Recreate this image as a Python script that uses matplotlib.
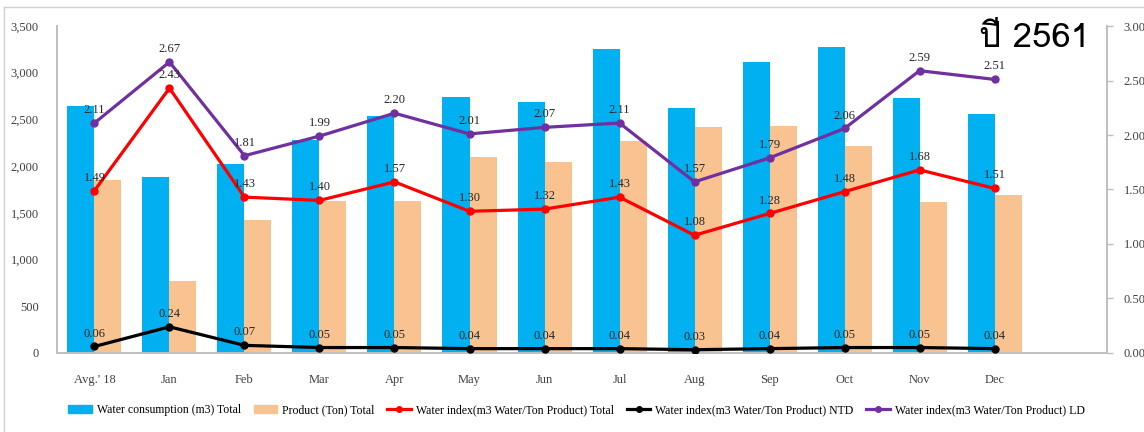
import numpy as np
import matplotlib
matplotlib.use('Agg')
import matplotlib.pyplot as plt
from matplotlib import font_manager
from matplotlib.ft2font import FT2Font
from matplotlib.lines import Line2D
from matplotlib.patches import Patch

categories = ["Avg.' 18", 'Jan', 'Feb', 'Mar', 'Apr', 'May', 'Jun', 'Jul',
              'Aug', 'Sep', 'Oct', 'Nov', 'Dec']
water = [2640, 1880, 2020, 2280, 2540, 2740, 2690, 3255, 2625, 3115, 3275, 2730, 2560]
product = [1852, 771, 1424, 1624, 1624, 2098, 2045, 2270, 2420, 2427, 2216, 1620, 1692]
idx_total = [1.49, 2.43, 1.43, 1.40, 1.57, 1.30, 1.32, 1.43, 1.08, 1.28, 1.48, 1.68, 1.51]
idx_ntd = [0.06, 0.24, 0.07, 0.05, 0.05, 0.04, 0.04, 0.04, 0.03, 0.04, 0.05, 0.05, 0.04]
idx_ld = [2.11, 2.67, 1.81, 1.99, 2.20, 2.01, 2.07, 2.11, 1.57, 1.79, 2.06, 2.59, 2.51]

# look for any installed family that can draw Thai
thai = []
for f in font_manager.fontManager.ttflist:
    try:
        if 0x0E1B in FT2Font(f.fname).get_charmap() and f.name not in thai:
            thai.append(f.name)
    except Exception:
        pass

plt.rcParams['font.family'] = ['Liberation Serif', 'DejaVu Serif']
tick_col = '#404040'
grey = '#bfbfbf'

fig = plt.figure(figsize=(11.44, 4.32), dpi=100)
ax = fig.add_axes([0.0498, 0.1829, 0.9179, 0.7569])
ax2 = ax.twinx()

x = np.arange(len(categories))
w = 0.36
ax.bar(x - w / 2, water, w, color='#00B0F0', zorder=2)
ax.bar(x + w / 2, product, w, color='#F8C291', zorder=2)

ax.set_xlim(-0.5, 13.5)
ax.set_ylim(0, 3500)
ax.set_yticks(np.arange(0, 3501, 500))
ax.set_yticklabels([f'{v:,}' for v in range(0, 3501, 500)])
ax.set_xticks(x)
ax.set_xticklabels(categories)
ax.tick_params(axis='y', length=0, pad=13, labelsize=9, labelcolor=tick_col)
ax.tick_params(axis='x', length=0, pad=15, labelsize=9, labelcolor=tick_col)

ax2.set_ylim(0, 3.0)
ax2.set_yticks(np.arange(0, 3.01, 0.5))
ax2.set_yticklabels([f'{v:.2f}' for v in np.arange(0, 3.01, 0.5)])
ax2.tick_params(axis='y', length=4, width=1, color=grey, pad=8, labelsize=9,
                labelcolor=tick_col)

for a in (ax, ax2):
    a.spines['top'].set_visible(False)
    for s in ('left', 'right', 'bottom'):
        a.spines[s].set_color(grey)
        a.spines[s].set_linewidth(1.2)

series = [(idx_total, '#FF0000'), (idx_ntd, '#000000'), (idx_ld, '#7030A0')]
for vals, col in series:
    ax2.plot(x, vals, color=col, lw=2.3, marker='o', ms=5, zorder=3)
    for xi, v in zip(x, vals):
        ax2.annotate(f'{v:.2f}', (xi, v), xytext=(0, 5), textcoords='offset points',
                     ha='center', va='bottom', fontsize=9, color='#262626', zorder=4)

# chart-area frame
fig.add_artist(Line2D([0.0035, 1], [0.984, 0.984], color='#d0d0d0', lw=1))
fig.add_artist(Line2D([0.0035, 0.0035], [0, 0.984], color='#d0d0d0', lw=1))

fig.text(0.953, 0.912, 'ปี 2561', ha='right', va='center', fontsize=25,
         family=thai[:1] + ['Noto Sans', 'DejaVu Sans'])

handles = [
    Patch(color='#00B0F0', label='Water consumption (m3) Total'),
    Patch(color='#F8C291', label='Product (Ton) Total'),
    Line2D([], [], color='#FF0000', lw=2.3, marker='o', ms=4,
           label='Water index(m3 Water/Ton Product) Total'),
    Line2D([], [], color='#000000', lw=2.3, marker='o', ms=4,
           label='Water index(m3 Water/Ton Product) NTD'),
    Line2D([], [], color='#7030A0', lw=2.3, marker='o', ms=4,
           label='Water index(m3 Water/Ton Product) LD'),
]
fig.legend(handles=handles, loc='center', bbox_to_anchor=(0.504, 0.051), ncol=5,
           frameon=False, fontsize=8.5, handlelength=2.0, handletextpad=0.4,
           columnspacing=1.1)

fig.savefig('out.png', dpi=100)
